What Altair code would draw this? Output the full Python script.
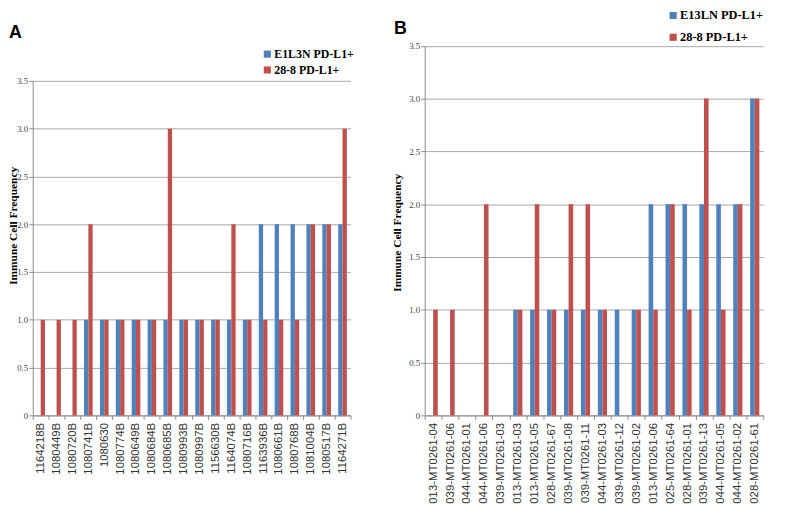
import altair as alt
import pandas as pd

# ---------------- data ----------------
cats_a = ["1164218B", "1080449B", "1080720B", "1080741B", "1080630", "1080774B",
          "1080649B", "1080684B", "1080685B", "1080993B", "1080997B", "1156630B",
          "1164074B", "1080716B", "1163936B", "1080661B", "1080768B", "1081004B",
          "1080517B", "1164271B"]
e1l3n_a = [0, 0, 0, 1, 1, 1, 1, 1, 1, 1, 1, 1, 1, 1, 2, 2, 2, 2, 2, 2]
r288_a = [1, 1, 1, 2, 1, 1, 1, 1, 3, 1, 1, 1, 2, 1, 1, 1, 1, 2, 2, 3]
series_a = ["E1L3N PD-L1+", "28-8 PD-L1+"]

cats_b = ["013-MT0261-04", "039-MT0261-06", "044-MT0261-01", "044-MT0261-06",
          "039-MT0261-03", "013-MT0261-03", "013-MT0261-05", "028-MT0261-67",
          "039-MT0261-08", "039-MT0261-11", "044-MT0261-03", "039-MT0261-12",
          "039-MT0261-02", "013-MT0261-06", "025-MT0261-64", "028-MT0261-01",
          "039-MT0261-13", "044-MT0261-05", "044-MT0261-02", "028-MT0261-61"]
e13ln_b = [0, 0, 0, 0, 0, 1, 1, 1, 1, 1, 1, 1, 1, 2, 2, 2, 2, 2, 2, 3]
r288_b = [1, 1, 0, 2, 0, 1, 2, 1, 2, 2, 1, 0, 1, 1, 2, 1, 3, 1, 2, 3]
series_b = ["E13LN PD-L1+", "28-8 PD-L1+"]

y_ticks = [0, 0.5, 1.0, 1.5, 2.0, 2.5, 3.0, 3.5]
y_title = "Immune Cell Frequency"

BLUE = "#4F81BD"
RED = "#C0504D"
GRID = "#a8a8a8"
AXIS = "#8c8c8c"


def long_df(cats, s1, s2, names):
    rows = []
    for c, a, b in zip(cats, s1, s2):
        rows.append({"cat": c, "series": names[0], "value": a})
        rows.append({"cat": c, "series": names[1], "value": b})
    return pd.DataFrame(rows)


def text_layer(txt, x, y, size, font, weight="bold", align="left"):
    return alt.Chart(pd.DataFrame({"t": [txt]})).mark_text(
        font=font, fontSize=size, fontWeight=weight, color="black",
        align=align, baseline="middle"
    ).encode(text="t:N", x=alt.value(x), y=alt.value(y))


def square_layer(x, y, color):
    return alt.Chart(pd.DataFrame({"t": [0]})).mark_square(
        size=52, filled=True, color=color, opacity=1
    ).encode(x=alt.value(x), y=alt.value(y))


def panel(df, cats, names, xrange, yrange, y_offset, title_x, title_y,
          letter, letter_xy, legend_x, legend_ys, legend_size):
    x = alt.X(
        "cat:N", sort=cats,
        scale=alt.Scale(range=xrange, paddingInner=0, paddingOuter=0),
        axis=alt.Axis(title=None, orient="bottom", labelAngle=270,
                      labelFont="Liberation Sans", labelFontSize=11.5,
                      labelColor="#333333", labelPadding=3, labelLimit=300,
                      tickSize=4, tickColor=AXIS, tickBand="extent",
                      domainColor=AXIS, grid=False),
    )
    y = alt.Y(
        "value:Q",
        scale=alt.Scale(domain=[0, 3.5], range=yrange, nice=False),
        axis=alt.Axis(title=y_title, orient="left", offset=y_offset,
                      values=y_ticks,
                      labelExpr="datum.value == 0 ? '0' : format(datum.value, '.1f')",
                      labelFont="Liberation Serif", labelFontSize=9,
                      labelColor="#444444", labelPadding=1,
                      tickSize=4, tickColor=AXIS, domainColor=AXIS,
                      grid=True, gridColor=GRID,
                      titleFont="Liberation Serif", titleFontSize=11.5,
                      titleFontWeight="bold", titleColor="black",
                      titleAngle=270, titleAlign="center",
                      titleBaseline="alphabetic",
                      titleX=title_x, titleY=title_y),
    )
    bars = alt.Chart(df).mark_bar().encode(
        x=x,
        xOffset=alt.XOffset("series:N", sort=names,
                            scale=alt.Scale(paddingInner=0, paddingOuter=0.84)),
        y=y,
        color=alt.Color("series:N",
                        scale=alt.Scale(domain=names, range=[BLUE, RED]),
                        legend=None),
    )
    layers = [bars,
              text_layer(letter, letter_xy[0], letter_xy[1], 18,
                         "Liberation Sans")]
    for name, ly, col in zip(names, legend_ys, [BLUE, RED]):
        layers.append(square_layer(legend_x, ly, col))
        layers.append(text_layer(name, legend_x + 7, ly, legend_size,
                                 "Liberation Serif"))
    return alt.layer(*layers)


df_a = long_df(cats_a, e1l3n_a, r288_a, series_a)
df_b = long_df(cats_b, e13ln_b, r288_b, series_b)

panel_a = panel(df_a, cats_a, series_a, [25, 346], [409, 71], -25,
                -16.5, 217, "A", (1, 23), 262, [44, 60], 12)
panel_b = panel(df_b, cats_b, series_b, [421, 763], [409, 35.5], -421,
                -24, 224, "B", (390, 19), 672, [5, 27], 12.5)

chart = alt.layer(panel_a, panel_b).resolve_scale(
    x="independent", y="independent", xOffset="independent",
    color="independent"
).resolve_axis(
    x="independent", y="independent"
).properties(
    width=785, height=409,
    autosize=alt.AutoSizeParams(type="none"),
    padding={"left": 0, "top": 0, "right": 0, "bottom": 93},
).configure_view(stroke=None)

chart.save("out.html", embed_options={"renderer": "svg", "actions": False})
